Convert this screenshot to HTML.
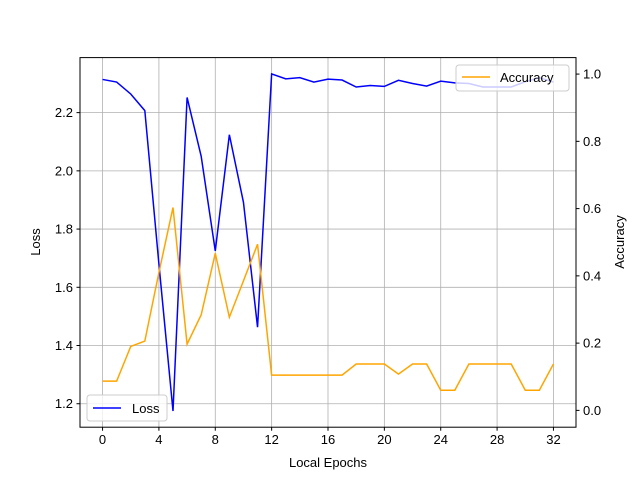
<!DOCTYPE html>
<html><head><meta charset="utf-8"><style>
body{margin:0;background:#fff}
svg{font-family:"Liberation Sans","DejaVu Sans",sans-serif;display:block}
</style></head><body>
<svg id="chart" width="640" height="480" xmlns="http://www.w3.org/2000/svg">
<g id="grid"></g>
<g id="series"></g>
<rect x="80" y="57.6" width="496" height="369.6" fill="none" stroke="#000" stroke-width="1"/>
<g id="axes" font-size="13" fill="#000"></g>
<text x="328" y="467" text-anchor="middle" font-size="13">Local Epochs</text>
<text transform="translate(40,242) rotate(-90)" text-anchor="middle" font-size="13">Loss</text>
<text transform="translate(624,242) rotate(-90)" text-anchor="middle" font-size="13">Accuracy</text>
<g>
<rect x="87" y="395" width="80" height="26" rx="3" fill="#fff" fill-opacity="0.8" stroke="#ccc"/>
<line x1="93" y1="408" x2="121" y2="408" stroke="#0000ff" stroke-width="1.5"/>
<text x="132" y="413" font-size="13">Loss</text>
</g>
<g>
<rect x="456" y="65" width="113" height="26" rx="3" fill="#fff" fill-opacity="0.8" stroke="#ccc"/>
<line x1="462" y1="77" x2="490" y2="77" stroke="#ffa500" stroke-width="1.5"/>
<text x="500" y="82" font-size="13">Accuracy</text>
</g>
</svg>
<script>
const epochs=[0,1,2,3,4,5,6,7,8,9,10,11,12,13,14,15,16,17,18,19,20,21,22,23,24,25,26,27,28,29,30,31,32];
const lossValues=[2.314,2.305,2.264,2.207,1.68,1.175,2.252,2.05,1.725,2.124,1.892,1.463,2.333,2.316,2.32,2.305,2.315,2.312,2.288,2.293,2.29,2.311,2.30,2.291,2.308,2.302,2.30,2.288,2.288,2.288,2.306,2.32,2.305];
const accValues=[0.087,0.087,0.19,0.206,0.41,0.603,0.197,0.284,0.467,0.277,0.385,0.494,0.105,0.105,0.105,0.105,0.105,0.105,0.138,0.138,0.138,0.108,0.138,0.138,0.06,0.06,0.138,0.138,0.138,0.138,0.06,0.06,0.138];
const xTicks=[0,4,8,12,16,20,24,28,32];
const yTicks=[1.2,1.4,1.6,1.8,2.0,2.2];
const y2Ticks=[0.0,0.2,0.4,0.6,0.8,1.0];
const L=80,R=576,T=57.6,B=427.2;
const xMin=-1.6,xMax=33.6,yMin=1.1194,yMax=2.389,y2Min=-0.05,y2Max=1.049;
const X=v=>L+(v-xMin)/(xMax-xMin)*(R-L);
const Y=v=>B-(v-yMin)/(yMax-yMin)*(B-T);
const Y2=v=>B-(v-y2Min)/(y2Max-y2Min)*(B-T);
const NS="http://www.w3.org/2000/svg";
const grid=document.getElementById('grid'),axes=document.getElementById('axes'),series=document.getElementById('series');
function mk(tag,attrs,parent){const e=document.createElementNS(NS,tag);for(const k in attrs)e.setAttribute(k,attrs[k]);parent.appendChild(e);return e;}
xTicks.forEach(t=>{
 const x=X(t);
 const g=mk('line',{x1:x,x2:x,y1:T,y2:B,stroke:'#b0b0b0','stroke-width':0.8},grid);
 
 
 mk('line',{x1:x,x2:x,y1:B,y2:B+3.5,stroke:'#000'},axes);
 const tx=mk('text',{x:x,y:B+17,'text-anchor':'middle'},axes);
 tx.textContent=t;
 
 
});
yTicks.forEach(t=>{
 const y=Y(t);
 const g=mk('line',{x1:L,x2:R,y1:y,y2:y,stroke:'#b0b0b0','stroke-width':0.8},grid);
 
 
 mk('line',{x1:L-3.5,x2:L,y1:y,y2:y,stroke:'#000'},axes);
 const tx=mk('text',{x:L-7,y:y+4.5,'text-anchor':'end'},axes);
 tx.textContent=t.toFixed(1);
 
 
});
y2Ticks.forEach(t=>{
 const y=Y2(t);
 mk('line',{x1:R,x2:R+3.5,y1:y,y2:y,stroke:'#000'},axes);
 const tx=mk('text',{x:R+7,y:y+4.5,'text-anchor':'start'},axes);
 tx.textContent=t.toFixed(1);
 
 
});
const lossPath=mk('polyline',{points:epochs.map((e,i)=>X(e)+','+Y(lossValues[i])).join(' '),fill:'none',stroke:'#0000ff','stroke-width':1.5},series);


const accPath=mk('polyline',{points:epochs.map((e,i)=>X(e)+','+Y2(accValues[i])).join(' '),fill:'none',stroke:'#ffa500','stroke-width':1.5},series);


</script>
</body></html>
